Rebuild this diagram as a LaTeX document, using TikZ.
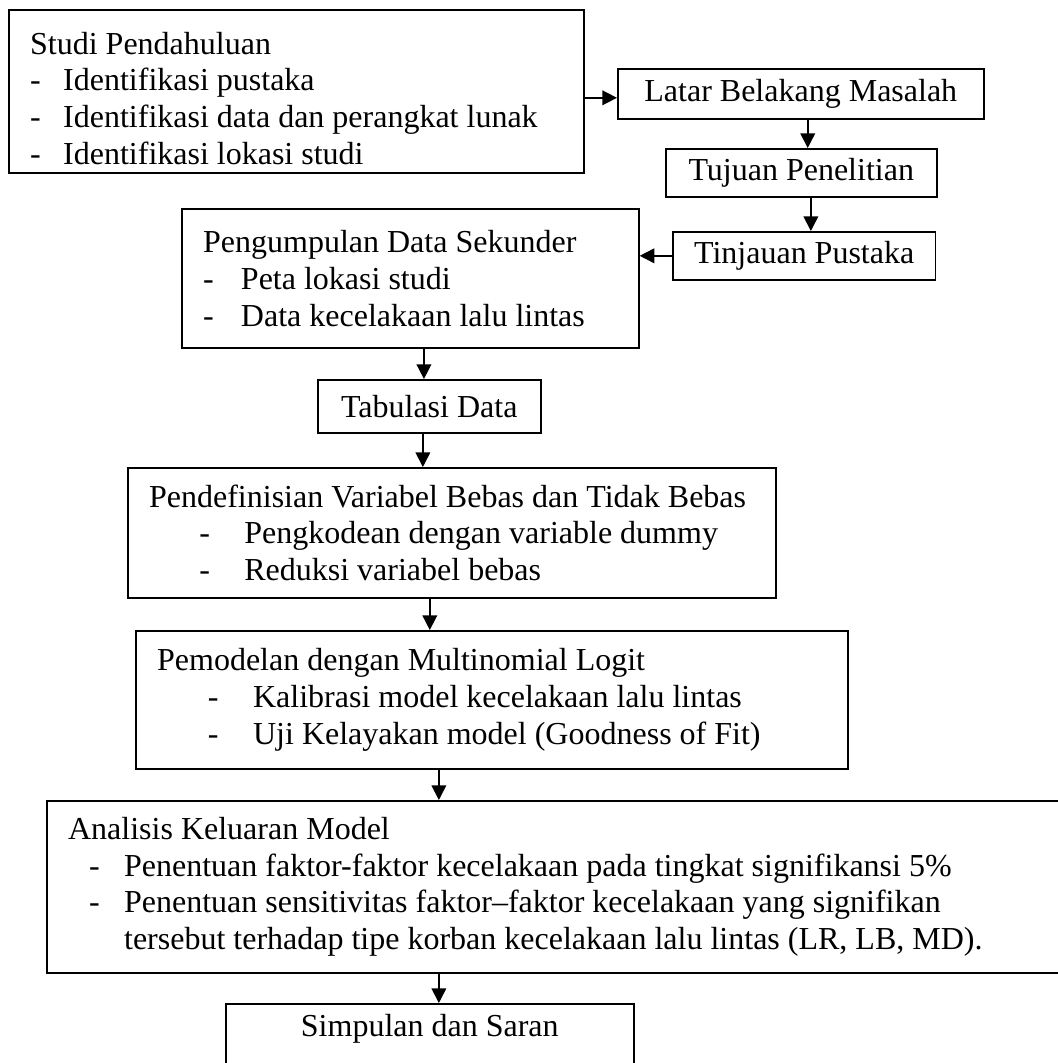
\documentclass[tikz,border=0pt]{standalone}
\usepackage{fontspec}
\setmainfont{Liberation Serif}
\usetikzlibrary{positioning,arrows.meta}
\newcommand{\txtline}[1]{\mbox{\spaceskip=0pt\xspaceskip=0pt\relax #1}}
\newcommand{\dashitem}[3]{\txtline{\hspace*{#1}\makebox[#2][l]{-}#3}}

\begin{document}
\begin{tikzpicture}[
  x=0.375pt, y=-0.375pt,
  font=\fontsize{12pt}{13.8pt}\selectfont,
  box/.style={draw, semithick, anchor=north west, inner xsep=8pt, inner ysep=2pt},
  listbox/.style={box, text width=#1, align=left},
  arr/.style={-{Triangle[length=5.5pt,width=5.5pt]}, semithick},
]
  \useasboundingbox (0,0) rectangle (1058,1063);
  \clip (0,0) rectangle (1058,1063);

  % ---- right column ---------------------------------------------------------
  \node[listbox=199.6pt, minimum width=215.6pt, minimum height=61.1pt] (studi) at (8,9)
    {\rule{0pt}{13.6pt}\txtline{Studi Pendahuluan}\\
     \dashitem{0pt}{12.4pt}{Identifikasi pustaka}\\
     \dashitem{0pt}{12.4pt}{Identifikasi data dan perangkat lunak}\\
     \dashitem{0pt}{12.4pt}{Identifikasi lokasi studi}};
  \node[box, minimum width=137.25pt, minimum height=18.75pt] (latar) at (617,68)
    {Latar Belakang Masalah};
  \node[box, minimum width=101.6pt, minimum height=18pt] (tujuan) at (665,148)
    {Tujuan Penelitian};
  \node[box, minimum width=95.6pt, minimum height=18pt] (tinjauan) at (672,231)
    {Tinjauan Pustaka};

  % ---- main column ----------------------------------------------------------
  \node[listbox=155.4pt, minimum width=171.4pt, minimum height=52.1pt] (pengumpulan) at (181,208)
    {\txtline{Pengumpulan Data Sekunder}\\
     \dashitem{0pt}{14.2pt}{Peta lokasi studi}\\
     \dashitem{0pt}{14.2pt}{Data kecelakaan lalu lintas}};
  \node[box, minimum width=83.6pt, minimum height=19.9pt] (tabulasi) at (317,379)
    {Tabulasi Data};
  \node[listbox=227pt, minimum width=243pt, minimum height=48.75pt] (pendefinisian) at (127,467)
    {\txtline{Pendefinisian Variabel Bebas dan Tidak Bebas}\\
     \dashitem{18.8pt}{16.9pt}{Pengkodean dengan variable dummy}\\
     \dashitem{18.8pt}{16.9pt}{Reduksi variabel bebas}};
  \node[listbox=251pt, minimum width=267pt, minimum height=51.75pt] (pemodelan) at (135,630)
    {\txtline{Pemodelan dengan Multinomial Logit}\\
     \dashitem{19pt}{17pt}{Kalibrasi model kecelakaan lalu lintas}\\
     \dashitem{19pt}{17pt}{Uji Kelayakan model (Goodness of Fit)}};
  \node[listbox=375.5pt, minimum width=391.5pt, minimum height=64.5pt] (analisis) at (46,800)
    {\txtline{Analisis Keluaran Model}\\
     \dashitem{7.9pt}{13.1pt}{Penentuan faktor-faktor kecelakaan pada tingkat signifikansi 5\%}\\
     \dashitem{7.9pt}{13.1pt}{Penentuan sensitivitas faktor--faktor kecelakaan yang signifikan}\\
     \txtline{\hspace*{21pt}tersebut terhadap tipe korban kecelakaan lalu lintas (LR, LB, MD).}};
  \node[box, minimum width=153pt, inner ysep=3pt, text height=9.2pt, text depth=30pt] (simpulan) at (225,1003)
    {Simpulan dan Saran};

  \coordinate (spine) at ([xshift=3.4pt]simpulan.north);

  % ---- connectors -------------------------------------------------------------
  \draw[arr] ([yshift=-1.5pt]latar.west -| studi.east) -- ([yshift=-1.5pt]latar.west);
  \draw[arr] ([xshift=2.6pt]latar.south) -- ([xshift=2.6pt]latar.south |- tujuan.north);
  \draw[arr] ([xshift=3.6pt]tujuan.south) -- ([xshift=3.6pt]tujuan.south |- tinjauan.north);
  \draw[arr] (tinjauan.west) -- (tinjauan.west -| pengumpulan.east);
  \draw[arr] ([xshift=-2pt]tabulasi.north |- pengumpulan.south) -- ([xshift=-2pt]tabulasi.north);
  \draw[arr] ([xshift=-2.4pt]tabulasi.south) -- ([xshift=-2.4pt]tabulasi.south |- pendefinisian.north);
  \draw[arr] (pendefinisian.south -| simpulan.north) -- (pemodelan.north -| simpulan.north);
  \draw[arr] (pemodelan.south -| spine) -- (analisis.north -| spine);
  \draw[arr] (analisis.south -| spine) -- (simpulan.north -| spine);
\end{tikzpicture}
\end{document}
